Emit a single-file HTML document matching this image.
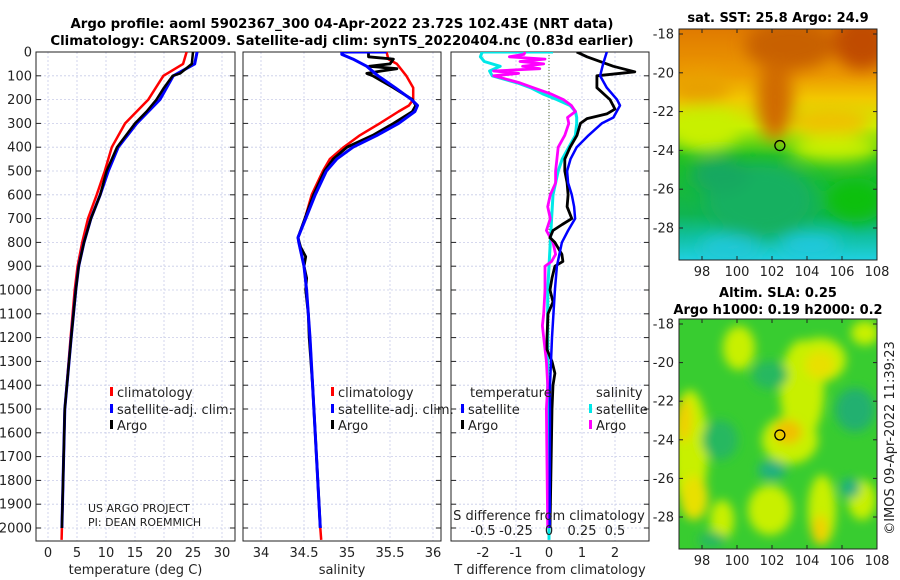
<!DOCTYPE html>
<html><head><meta charset="utf-8">
<style>
html,body{margin:0;padding:0;background:#fff;}
svg{display:block;font-family:"DejaVu Sans","Liberation Sans",sans-serif;}
</style></head>
<body>
<svg id="fig" width="900" height="580" viewBox="0 0 900 580" xmlns="http://www.w3.org/2000/svg">
<defs>
<filter id="bl" x="-20%" y="-20%" width="140%" height="140%"><feGaussianBlur stdDeviation="8"/></filter>
<filter id="bl2" x="-20%" y="-20%" width="140%" height="140%"><feGaussianBlur stdDeviation="5"/></filter>
<clipPath id="c1"><rect x="36" y="52" width="199" height="489"/></clipPath>
<clipPath id="c2"><rect x="243" y="52" width="198" height="489"/></clipPath>
<clipPath id="c3"><rect x="451" y="52" width="198" height="489"/></clipPath>
<clipPath id="cm1"><rect x="679" y="29" width="198" height="231"/></clipPath>
<clipPath id="cm2"><rect x="679" y="319" width="198" height="230"/></clipPath>
<linearGradient id="sstg" x1="0" y1="0" x2="0" y2="1">
<stop offset="0" stop-color="#e07a00"/><stop offset="0.2" stop-color="#ec9a00"/>
<stop offset="0.3" stop-color="#f2c800"/><stop offset="0.42" stop-color="#c8f000"/>
<stop offset="0.55" stop-color="#20c020"/><stop offset="0.8" stop-color="#10b450"/>
<stop offset="0.9" stop-color="#10c0a0"/><stop offset="1" stop-color="#20d0e0"/>
</linearGradient>
</defs>
<g id="panels"></g>
<g id="maps"></g>
</svg>
<script>
// ---- profile data (depth in m) ----
const tDepth = [0,50,100,200,300,400,500,600,700,800,900,1000,1200,1500,2000,2050];
const tClim  = [23.9,23.3,19.9,17.3,13.3,11.0,9.8,8.4,6.9,5.9,5.1,4.6,3.9,2.9,2.4,2.35];
const tSat   = [25.7,25.3,21.6,19.3,15.3,12.1,10.4,9.0,7.4,6.2,5.3,4.8,4.0,2.9,2.4];
const tArgoDepth = [0,50,90,100,150,200,250,300,400,500,600,700,800,900,1000,1200,1500,2000];
const tArgo  = [25.0,24.8,22.8,21.5,20.0,18.7,17.0,15.0,11.9,10.1,9.0,7.4,6.2,5.3,4.8,4.0,2.9,2.4];

const sDepth = [0,30,50,100,150,200,225,250,300,350,400,450,500,600,700,780,800,900,1000,1200,1400,1600,2000,2050];
const sClim  = [35.46,35.48,35.58,35.69,35.77,35.77,35.72,35.6,35.38,35.15,34.96,34.8,34.72,34.59,34.51,34.43,34.44,34.5,34.53,34.57,34.6,34.63,34.69,34.7];
const sSatDepth = [0,0,10,30,60,100,150,200,225,250,300,350,400,450,500,600,700,780,800,900,1000,1200,1400,1600,2000];
const sSat   = [35.46,34.94,34.94,35.07,35.23,35.36,35.56,35.75,35.82,35.79,35.6,35.35,35.07,34.88,34.76,34.63,34.52,34.43,34.44,34.5,34.53,34.57,34.6,34.63,34.69];
const sArgoDepth = [0,20,30,50,60,70,80,90,100,150,200,225,250,300,350,400,450,500,600,700,780,820,860,900,950,1000,1100,1200,1400,1600,1800,2000];
const sArgo  = [35.25,35.25,35.54,35.5,35.26,35.58,35.4,35.23,35.3,35.54,35.76,35.8,35.76,35.54,35.3,35.0,34.84,34.74,34.61,34.51,34.43,34.46,34.52,34.5,34.53,34.52,34.55,34.56,34.6,34.63,34.66,34.69];

const dSatDepth = [0,50,100,150,200,225,275,300,350,400,450,500,550,600,650,700,750,800,900,1000,1200,1400,2000];
const dTSat = [1.75,1.64,1.55,1.75,2.06,2.15,1.95,1.6,1.2,0.84,0.65,0.55,0.58,0.69,0.76,0.79,0.58,0.39,0.24,0.18,0.09,0.03,0.02];
const dTArgoDepth = [0,20,60,83,100,150,200,240,260,280,300,350,400,450,500,550,600,650,700,725,750,780,800,850,880,900,950,1000,1050,1100,1200,1250,1300,1350,1400,1500,2000];
const dTArgo = [0.84,1.15,1.95,2.6,1.45,1.45,1.85,2.0,1.75,1.15,0.95,0.85,0.64,0.48,0.48,0.55,0.58,0.55,0.69,0.4,0.12,0.03,0.18,0.39,0.42,0.18,0.09,0.03,0.12,-0.03,-0.06,-0.06,0.09,0.18,0.12,0.09,0.03];
const dSDepth = [0,0,5,20,40,60,80,100,130,150,175,200,225,250,275,300,350,400,450,500,600,700,800,1000,1200,1400,2000,2050];
const dSSat = [0.03,-0.51,-0.51,-0.52,-0.49,-0.37,-0.45,-0.43,-0.24,-0.14,-0.05,0.06,0.16,0.2,0.21,0.21,0.2,0.15,0.1,0.07,0.03,0.02,0.01,-0.01,-0.01,-0.01,0,0];
const dSArgoDepth = [0,10,20,30,40,50,60,70,80,90,100,110,130,150,175,200,225,250,275,300,350,400,450,500,550,600,650,700,750,780,800,850,880,900,1000,1100,1150,1200,1300,1400,1500,2000];
const dSArgo = [-0.18,-0.19,-0.3,-0.03,-0.22,-0.04,-0.2,-0.07,-0.42,-0.23,-0.42,-0.35,-0.22,-0.12,0.01,0.11,0.17,0.2,0.14,0.15,0.12,0.07,0.06,0.05,0.05,0.01,-0.01,0.01,-0.02,0.01,0.03,0.05,0.02,-0.03,-0.03,-0.04,-0.05,-0.04,-0.02,-0.01,-0.02,-0.01];

const depthTicks = [0,100,200,300,400,500,600,700,800,900,1000,1100,1200,1300,1400,1500,1600,1700,1800,1900,2000];
const tTicks = [0,5,10,15,20,25,30];
const sTicks = [34,34.5,35,35.5,36];
const dTTicks = [-2,-1,0,1,2];
const dSTicks = [-0.5,-0.25,0,0.25,0.5];
const dSTickLabels = ['-0.5','-0.25','0','0.25','0.5'];
const lonTicks = [98,100,102,104,106,108];
const latTicks = [-18,-20,-22,-24,-26,-28];
const floatLon = 102.45, floatLat = -23.75;

// ---- scales ----
const Y = d => 52 + d*0.238;
const XT = v => 48 + v*5.8;
const XS = v => 261 + (v-34)*86;
const XDT = v => 549 + v*33;
const XDS = v => 549 + v*132;
const MX = lon => 702 + (lon-98)*17.5;
const MY1 = lat => 34 + (-18-lat)*19.4;
const MY2 = lat => 324 + (-18-lat)*19.3;

const NS='http://www.w3.org/2000/svg';
function mk(tag, attrs, parent){const e=document.createElementNS(NS,tag);for(const k in attrs)e.setAttribute(k,attrs[k]);parent.appendChild(e);return e;}
const P=document.getElementById('panels');
const M=document.getElementById('maps');
function txt(parent,x,y,s,opts){const t=mk('text',Object.assign({x:x,y:y,'font-size':13,fill:'#222'},opts||{}),parent);t.textContent=s;return t;}

function line(parent,xs,ds,fx,color,w,clip,name){
  let d='';for(let i=0;i<xs.length;i++)d+=(i?'L':'M')+fx(xs[i]).toFixed(1)+','+Y(ds[i]).toFixed(1);
  const p=mk('path',{d:d,fill:'none',stroke:color,'stroke-width':w,'stroke-linejoin':'round','clip-path':'url(#'+clip+')'},parent);
  
  
}

function panel(x0,w,clip,name,xticks,fx,xlabels,xtitle,showY){
  const g=mk('g',{},P);
  
  
  depthTicks.forEach(d=>{mk('line',{x1:x0,x2:x0+w,y1:Y(d),y2:Y(d),stroke:'#c8cce8','stroke-width':0.8,'stroke-dasharray':'2,2'},g);});
  xticks.forEach(v=>{mk('line',{x1:fx(v),x2:fx(v),y1:52,y2:541,stroke:'#c8cce8','stroke-width':0.8,'stroke-dasharray':'2,2'},g);});
  mk('rect',{x:x0,y:52,width:w,height:489,fill:'none',stroke:'#222','stroke-width':1},g);
  depthTicks.forEach(d=>{mk('line',{x1:x0,x2:x0+5,y1:Y(d),y2:Y(d),stroke:'#222'},g);mk('line',{x1:x0+w-5,x2:x0+w,y1:Y(d),y2:Y(d),stroke:'#222'},g);});
  if(showY){depthTicks.forEach(d=>{const t=txt(g,x0-4,Y(d)+4.5,String(d),{'text-anchor':'end'});});}
  xticks.forEach((v,i)=>{const t=txt(g,fx(v),557,xlabels[i],{'text-anchor':'middle'});});
  const tt=txt(g,x0+w/2,574,xtitle,{'text-anchor':'middle'});
  
  
  return g;
}

const g1=panel(36,199,'c1','temperature-panel',tTicks,XT,tTicks.map(String),'temperature (deg C)',true);
line(g1,tClim,tDepth,XT,'#ff0000',2.5,'c1','temperature-climatology-line');
line(g1,tSat,tDepth.slice(0,tSat.length),XT,'#0000ff',3,'c1','temperature-satellite-line');
line(g1,tArgo,tArgoDepth,XT,'#000',2.5,'c1','temperature-argo-line');
const g2=panel(243,198,'c2','salinity-panel',sTicks,XS,sTicks.map(String),'salinity',false);
line(g2,sClim,sDepth,XS,'#ff0000',2.5,'c2','salinity-climatology-line');
line(g2,sArgo,sArgoDepth,XS,'#000',2.8,'c2','salinity-argo-line');
line(g2,sSat,sSatDepth,XS,'#0000ff',3,'c2','salinity-satellite-line');
const g3=panel(451,198,'c3','difference-panel',dTTicks,XDT,dTTicks.map(String),'T difference from climatology',false);
mk('line',{x1:549,x2:549,y1:52,y2:541,stroke:'#556b2f','stroke-width':1,'stroke-dasharray':'1,2'},g3);
line(g3,dSSat,dSDepth,XDS,'#00e8e8',3,'c3','salinity-diff-satellite-line');
line(g3,dSArgo,dSArgoDepth,XDS,'#ff00ff',2.8,'c3','salinity-diff-argo-line');
line(g3,dTArgo,dTArgoDepth,XDT,'#000',2.8,'c3','temperature-diff-argo-line');
line(g3,dTSat,dSatDepth,XDT,'#0000ff',2.5,'c3','temperature-diff-satellite-line');
const st=txt(g3,549,520,'S difference from climatology',{'text-anchor':'middle'});


dSTicks.forEach((v,i)=>{const t=txt(g3,XDS(v),535,dSTickLabels[i],{'text-anchor':'middle'});});

function legend(parent,x,y,color,label,name){
  const g=mk('g',{},parent);
  
  
  mk('rect',{x:x,y:y-5,width:3,height:9,fill:color},g);
  txt(g,x+7,y+5,label,{});
}
legend(P,110,392,'#ff0000','climatology','legend-climatology');
legend(P,110,409,'#0000ff','satellite-adj. clim.','legend-satellite');
legend(P,110,425,'#000','Argo','legend-argo');
legend(P,331,392,'#ff0000','climatology','legend-climatology-2');
legend(P,331,409,'#0000ff','satellite-adj. clim.','legend-satellite-2');
legend(P,331,425,'#000','Argo','legend-argo-2');
const lt=txt(P,470,397,'temperature',{});


legend(P,461,409,'#0000ff','satellite','legend-temp-satellite');
legend(P,461,425,'#000','Argo','legend-temp-argo');
const ls=txt(P,596,397,'salinity',{});


legend(P,589,409,'#00e8e8','satellite','legend-sal-satellite');
legend(P,589,425,'#ff00ff','Argo','legend-sal-argo');
const pr=txt(P,88,512,'US ARGO PROJECT',{'font-size':11});


const pi=txt(P,88,526,'PI: DEAN ROEMMICH',{'font-size':11});



const t1=txt(P,342,28,'Argo profile: aoml 5902367_300 04-Apr-2022 23.72S 102.43E (NRT data)',{'text-anchor':'middle','font-weight':'bold','font-size':13.3,fill:'#000'});


const t2=txt(P,342,45,'Climatology: CARS2009. Satellite-adj clim: synTS_20220404.nc (0.83d earlier)',{'text-anchor':'middle','font-weight':'bold','font-size':13.3,fill:'#000'});



function mapAxes(g,top,h,fy){
  mk('rect',{x:679,y:top,width:198,height:h,fill:'none',stroke:'#222'},g);
  latTicks.forEach(v=>{const y=fy(v);mk('line',{x1:679,x2:683,y1:y,y2:y,stroke:'#222'},g);mk('line',{x1:873,x2:877,y1:y,y2:y,stroke:'#222'},g);
    const t=txt(g,674,y+4.5,String(v),{'text-anchor':'end'});});
  lonTicks.forEach(v=>{const x=MX(v);mk('line',{x1:x,x2:x,y1:top+h-4,y2:top+h,stroke:'#222'},g);mk('line',{x1:x,x2:x,y1:top,y2:top+4,stroke:'#222'},g);
    const t=txt(g,x,top+h+16,String(v),{'text-anchor':'middle'});});
}
const m1=mk('g',{},M);


const m1c=mk('g',{'clip-path':'url(#cm1)'},m1);
mk('rect',{x:679,y:29,width:198,height:231,fill:'url(#sstg)'},m1c);
const b1=mk('g',{filter:'url(#bl)'},m1c);
[['#c86000',790,45,45,25],['#c04c00',862,42,28,28],['#d06a00',775,100,18,40],['#e8a000',700,88,30,16],['#f0c000',830,122,40,14],['#c8f000',705,128,35,22],['#c8f000',835,148,45,14],['#18b060',760,200,55,38],['#10c010',855,200,30,22],['#18a860',720,175,30,18],['#20c8d8',730,248,30,12],['#20c8e0',810,245,30,10]].forEach(a=>{mk('ellipse',{cx:a[1],cy:a[2],rx:a[3],ry:a[4],fill:a[0]},b1);});
mapAxes(m1,29,231,MY1);
mk('circle',{cx:MX(floatLon),cy:MY1(floatLat),r:5,fill:'none',stroke:'#000','stroke-width':1.3},m1);
const mt1=txt(m1,778,22,'sat. SST: 25.8 Argo: 24.9',{'text-anchor':'middle','font-weight':'bold',fill:'#000'});


const m2=mk('g',{},M);


const m2c=mk('g',{'clip-path':'url(#cm2)'},m2);
mk('rect',{x:679,y:319,width:198,height:230,fill:'#38cc30'},m2c);
const b2=mk('g',{filter:'url(#bl2)'},m2c);
[['#c8f000',739,348,16,22],['#c8f000',690,450,18,60],['#f0d000',684,420,8,22],['#e8e000',694,498,14,22],['#c8f000',802,390,22,50],['#c8f000',820,360,26,22],['#e8e000',820,365,15,14],['#c8f000',790,440,28,24],['#f0c000',788,432,14,12],['#c8f000',862,500,14,20],['#c8f000',770,510,22,25],['#c8f000',722,520,12,20],['#c8f000',822,510,14,35],['#f0d000',820,530,8,15],['#c8f000',865,333,14,12],['#20b070',855,410,20,22],['#20b080',772,470,14,10],['#20b080',850,488,10,10],['#28b860',720,440,18,20],['#28b860',712,540,14,8],['#28b860',770,375,18,14]].forEach(a=>{mk('ellipse',{cx:a[1],cy:a[2],rx:a[3],ry:a[4],fill:a[0]},b2);});
mapAxes(m2,319,230,MY2);
mk('circle',{cx:MX(floatLon),cy:MY2(floatLat),r:5,fill:'none',stroke:'#000','stroke-width':1.3},m2);
const mt2=txt(m2,778,297,'Altim. SLA: 0.25',{'text-anchor':'middle','font-weight':'bold',fill:'#000'});


const mt3=txt(m2,778,314,'Argo h1000: 0.19 h2000: 0.2',{'text-anchor':'middle','font-weight':'bold',fill:'#000'});


const cp=txt(M,0,0,'©IMOS 09-Apr-2022 11:39:23',{'text-anchor':'middle',transform:'translate(894,438) rotate(-90)'});


</script>
</body></html>
